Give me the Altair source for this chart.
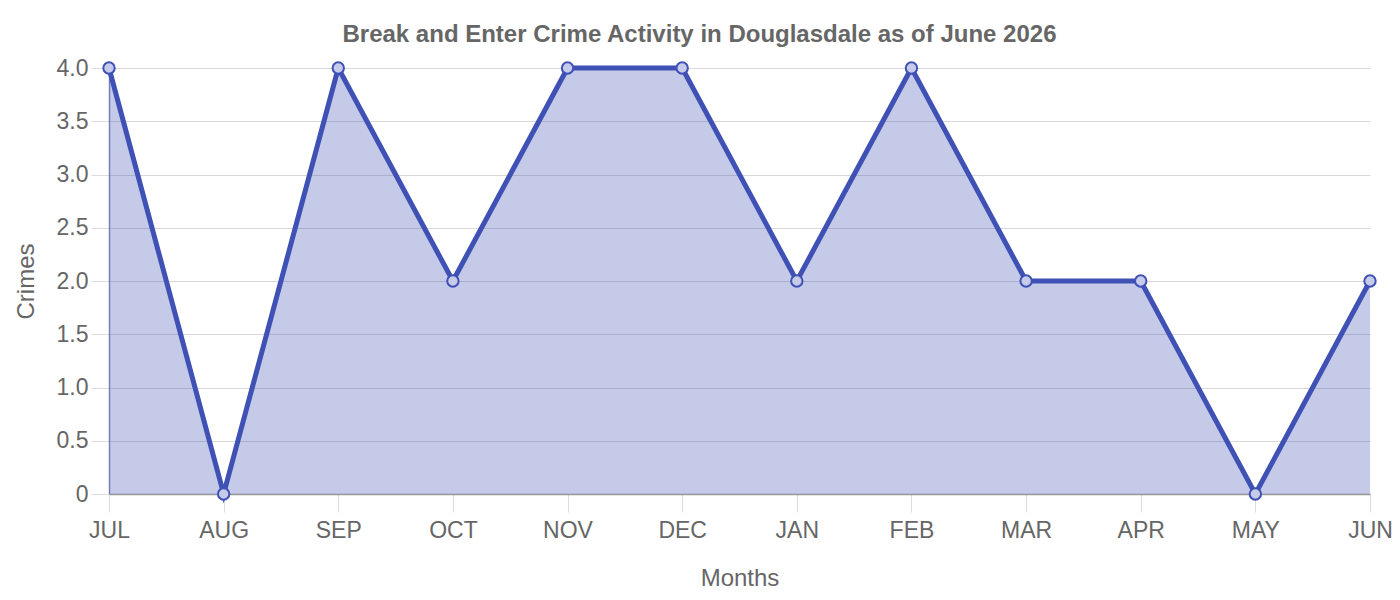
import pandas as pd
import altair as alt

months = ["JUL", "AUG", "SEP", "OCT", "NOV", "DEC", "JAN", "FEB", "MAR", "APR", "MAY", "JUN"]
crimes = [4, 0, 4, 2, 4, 4, 2, 4, 2, 2, 0, 2]

df = pd.DataFrame({"month": months, "crimes": crimes})

ink = "#3F51B5"
grey = "#666666"

x = alt.X(
    "month:N", sort=months, title="Months",
    scale=alt.Scale(type="point", padding=0),
    axis=alt.Axis(
        labelAngle=0, labelFontSize=23, labelColor=grey, labelFont="Liberation Sans",
        titleFontSize=24, titleColor=grey, titleFont="Liberation Sans", titleFontWeight="normal",
        titlePadding=24, tickSize=18, tickColor="#dddddd", labelPadding=7,
        gridColor="#dddddd", domainColor="#999999", domainWidth=1.5,
    ),
)
y = alt.Y(
    "crimes:Q", title="Crimes",
    scale=alt.Scale(domain=[0, 4], nice=False),
    axis=alt.Axis(
        values=[0, 0.5, 1, 1.5, 2, 2.5, 3, 3.5, 4],
        labelExpr="datum.value == 0 ? '0' : format(datum.value, '.1f')",
        labelFontSize=23, labelColor=grey, labelFont="Liberation Sans",
        titleFontSize=24, titleColor=grey, titleFont="Liberation Sans", titleFontWeight="normal",
        titlePadding=18, tickSize=18, tickColor="#dddddd", labelPadding=3,
        gridColor="#d8d8d8", domainColor="#8a93b8", domainWidth=1.5,
    ),
)

base = alt.Chart(df).encode(x=x, y=y)

area = base.mark_area(color=ink, opacity=0.3)
line = base.mark_line(color=ink, strokeWidth=5)
points = base.mark_point(
    shape="circle", size=130, filled=True, fill="#c5cbe9", stroke=ink, strokeWidth=2, opacity=1
)

chart = (
    alt.layer(area, line, points)
    .properties(
        width=1261,
        height=426,
        autosize=alt.AutoSizeParams(type="none"),
        padding={"left": 101, "top": 60, "right": 22, "bottom": 104},
        title=alt.TitleParams(
            "Break and Enter Crime Activity in Douglasdale as of June 2026",
            fontSize=24, font="Liberation Sans", fontWeight="bold", color=grey,
            anchor="middle", offset=10, dx=-40,
        ),
    )
    .configure_view(stroke=None)
)

chart.save("out.html", embed_options={"renderer": "svg", "actions": False})
